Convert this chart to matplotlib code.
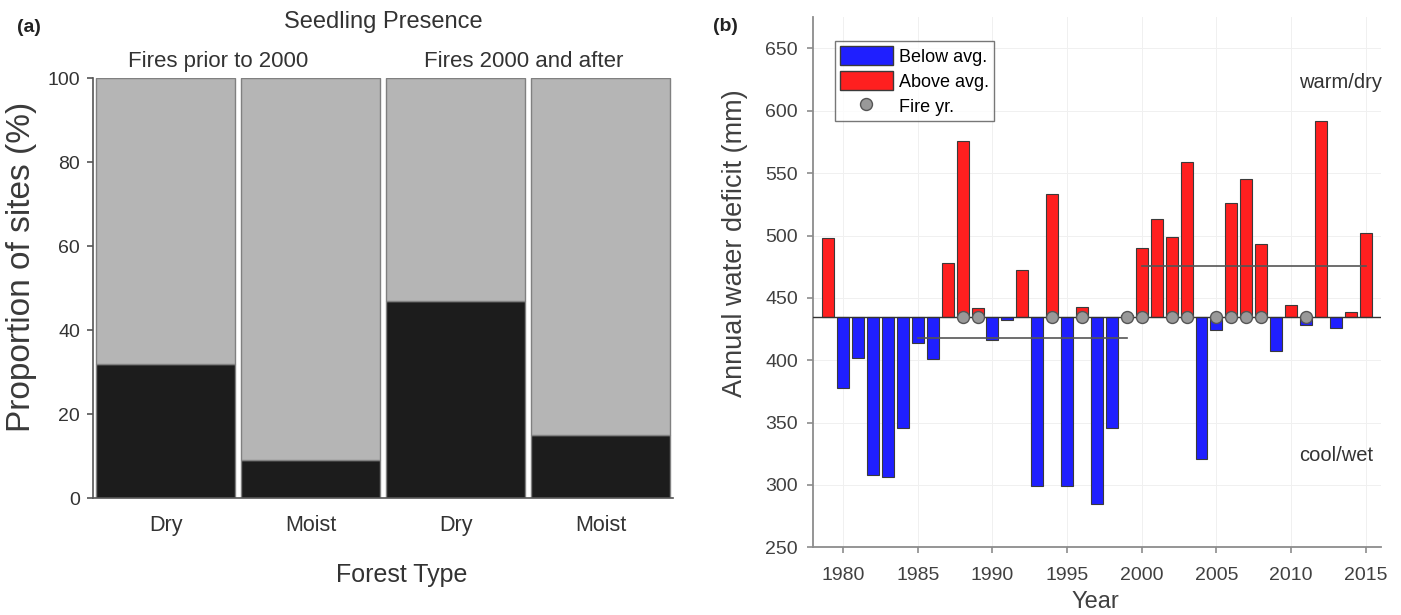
import numpy as np
import matplotlib
matplotlib.use("Agg")
import matplotlib.pyplot as plt
from matplotlib.patches import Patch
from matplotlib.lines import Line2D

plt.rcParams['font.family'] = ['Liberation Sans', 'DejaVu Sans']

# panel (a): seedling presence
forest = ["Dry", "Moist", "Dry", "Moist"]
present = [32, 9, 47, 15]
groups = ["Fires prior to 2000", "Fires 2000 and after"]

# panel (b): annual water deficit
years = list(range(1979, 2016))
deficit = [498, 378, 402, 308, 306, 346, 414, 401, 478, 576,
           442, 416, 432, 472, 299, 533, 299, 443, 285, 346,
           436, 490, 513, 499, 559, 321, 424, 526, 545, 493,
           407, 444, 428, 592, 426, 439, 502]
avg = 435
fire_years = [1988, 1989, 1994, 1996, 1999, 2000, 2002, 2003,
              2005, 2006, 2007, 2008, 2011]
period_means = [(1985, 1999, 418), (2000, 2015, 475.5)]

txt = "#333333"
fig = plt.figure(figsize=(14.01, 6.15), dpi=100)

# ---- (a)
ax = fig.add_axes([0.0666, 0.1898, 0.414, 0.6829])
x = np.arange(len(forest))
ax.bar(x, present, width=0.96, color="#1c1c1c", edgecolor="#808080", lw=1)
ax.bar(x, 100 - np.array(present), bottom=present, width=0.96,
       color="#b5b5b5", edgecolor="#808080", lw=1)
ax.set_xlim(-0.5, 3.5)
ax.set_ylim(0, 100)
ax.set_yticks(np.arange(0, 101, 20))
ax.set_xticks(x)
ax.set_xticklabels(forest, fontsize=15.5, color=txt)
ax.tick_params(axis="x", length=0, pad=12)
ax.tick_params(axis="y", labelsize=14, labelcolor=txt, color="#555555",
               length=4.5, width=1.2, pad=5)
for s in ["top", "right"]:
    ax.spines[s].set_visible(False)
for s in ["left", "bottom"]:
    ax.spines[s].set_color("#555555")
    ax.spines[s].set_linewidth(1.2)
ax.set_ylabel("Proportion of sites (%)", fontsize=24, color="#3a3a3a")
ax.yaxis.set_label_coords(-0.097, 0.55)
ax.set_xlabel("Forest Type", fontsize=18, color=txt)
ax.xaxis.set_label_coords(0.532, -0.154)
ax.text(0.36, 104, groups[0], ha="center", va="center", fontsize=16, color=txt)
ax.text(2.47, 104, groups[1], ha="center", va="center", fontsize=16, color=txt)
fig.text(0.2734, 0.964, "Seedling Presence", ha="center", va="center",
         fontsize=17, color=txt)
fig.text(0.012, 0.955, "(a)", ha="left", va="center", fontsize=14,
         fontweight="bold", color="#222222")

# ---- (b)
bx = fig.add_axes([0.5805, 0.1101, 0.405, 0.8618])
d = np.array(deficit)
cols = np.where(d >= avg, "#ff1f1f", "#1f1fff")
bx.bar(years, d - avg, bottom=avg, width=0.8, color=cols,
       edgecolor="#3a3a3a", lw=0.8, zorder=2)
bx.axhline(avg, color="#333333", lw=1, zorder=3)
for x0, x1, m in period_means:
    bx.plot([x0, x1], [m, m], color="#555555", lw=1.2, zorder=3)
bx.plot(fire_years, [avg] * len(fire_years), "o", ms=8.6,
        mfc="#999999", mec="#555555", mew=1, zorder=4)
bx.set_xlim(1978, 2016)
bx.set_ylim(250, 675)
bx.set_xticks(range(1980, 2016, 5))
bx.set_yticks(range(250, 651, 50))
bx.grid(True, color="#f0f0f0", lw=0.7, zorder=0)
bx.set_axisbelow(True)
for s in ["top", "right"]:
    bx.spines[s].set_visible(False)
for s in ["left", "bottom"]:
    bx.spines[s].set_color("#8c8c8c")
    bx.spines[s].set_linewidth(1.3)
bx.tick_params(labelsize=14, labelcolor="#404040", color="#8c8c8c",
               length=4, width=1.2)
bx.tick_params(axis="x", pad=10)
bx.tick_params(axis="y", pad=7)
bx.set_ylabel("Annual water deficit (mm)", fontsize=19.5, color="#404040")
bx.yaxis.set_label_coords(-0.115, 0.573)
bx.set_xlabel("Year", fontsize=17, color="#404040")
bx.xaxis.set_label_coords(0.498, -0.082)
bx.text(2010.55, 623, "warm/dry", ha="left", va="center", fontsize=14.5,
        color="#333333")
bx.text(2010.55, 323.4, "cool/wet", ha="left", va="center", fontsize=14.5,
        color="#333333")
handles = [Patch(facecolor="#1f1fff", edgecolor="#3a3a3a", label="Below avg."),
           Patch(facecolor="#ff1f1f", edgecolor="#3a3a3a", label="Above avg."),
           Line2D([], [], marker="o", ls="none", ms=8.6, mfc="#999999",
                  mec="#555555", label="Fire yr.")]
bx.legend(handles=handles, loc="upper left", bbox_to_anchor=(0.038, 0.956),
          fontsize=13, frameon=True, fancybox=False, edgecolor="#555555",
          handlelength=2.9, handleheight=1.25, handletextpad=0.35,
          labelspacing=0.3, borderpad=0.3, borderaxespad=0)
fig.text(0.509, 0.957, "(b)", ha="left", va="center", fontsize=14,
         fontweight="bold", color="#222222")

fig.savefig("out.png", dpi=100)
